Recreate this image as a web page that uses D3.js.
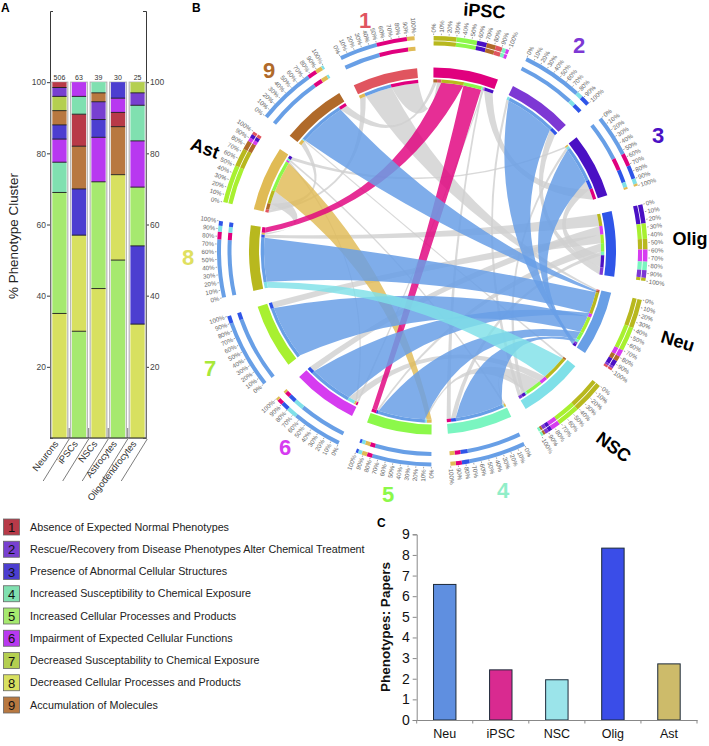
<!DOCTYPE html>
<html>
<head>
<meta charset="utf-8">
<script src="https://d3js.org/d3.v7.min.js"></script>
<style>
  body { margin: 0; background: #fff; }
  text { font-family: 'Liberation Sans', Arial, sans-serif; }
</style>
</head>
<body>
<svg id="fig" width="709" height="746"></svg>
<script>
// panel A: % of each phenotype cluster per cell type, bottom to top
const cellTypes = ['Neurons', 'iPSCs', 'NSCs', 'Astrocytes', 'Oligodendrocytes']
const paperCounts = [506, 63, 39, 30, 25]
const stackNeurons = [['8', 35], ['5', 34], ['4', 8.5], ['6', 6.5], ['3', 4], ['9', 4], ['7', 4], ['2', 2.5], ['1', 1.5]]
const stackIPSC = [['5', 30], ['8', 27], ['3', 13], ['9', 12], ['1', 9], ['4', 5], ['6', 4]]
const stackNSC = [['8', 42], ['5', 30], ['6', 12.5], ['3', 5], ['2', 5], ['9', 2.5], ['4', 3]]
const stackAstro = [['5', 50], ['8', 24], ['9', 13.5], ['1', 4], ['6', 4], ['3', 4.5]]
const stackOligo = [['8', 32], ['3', 22], ['5', 16.5], ['6', 13], ['4', 10], ['2', 3.5], ['7', 3]]
const percentTicks = [20, 40, 60, 80, 100]

// legend
const clusterIds = ['1', '2', '3', '4', '5', '6', '7', '8', '9']
const clusterNames = [
  'Absence of Expected Normal Phenotypes',
  'Rescue/Recovery from Disease Phenotypes Alter Chemical Treatment',
  'Presence of Abnormal Cellular Structures',
  'Increased Susceptibility to Chemical Exposure',
  'Increased Cellular Processes and Products',
  'Impairment of Expected Cellular Functions',
  'Decreased Susceptability to Chemical Exposure',
  'Decreased Cellular Processes and Products',
  'Accumulation of Molecules'
]

// panel C
const ratioLabels = ['Neu', 'iPSC', 'NSC', 'Olig', 'Ast']
const ratioValues = [6.57, 2.43, 1.95, 8.33, 2.72]
const ratioColors = ['#5f8fe0', '#d92a90', '#9be4ea', '#3a4de8', '#cdbb6a']

// panel B: segments clockwise from the top
const segments = ['iPSC', '2', '3', 'Olig', 'Neu', 'NSC', '4', '5', '6', '7', '8', 'Ast', '9', '1']
const pctTicks = [0, 10, 20, 30, 40, 50, 60, 70, 80, 90, 100]

// inner track / ribbon ends, clockwise in each segment
const linksIPSC = [['9', 6], ['1', 7], ['8', 37], ['5', 30], ['4', 3], ['6', 2], ['3', 15]]
const linksOlig = [['8', 20], ['6', 14], ['7', 14], ['5', 14], ['4', 6], ['3', 20], ['2', 12]]
const linksNeu = [['1', 2], ['9', 3], ['8', 36], ['6', 6], ['7', 28], ['5', 13], ['4', 5], ['2', 3], ['3', 4]]
const linksNSC = [['9', 3], ['8', 42], ['6', 12], ['5', 28], ['4', 3], ['3', 6], ['2', 6]]
const linksAst = [['1', 5], ['9', 10], ['8', 22], ['5', 52], ['6', 3], ['4', 3], ['3', 5]]
const links1 = [['Ast', 10], ['Neu', 45], ['iPSC', 45]]
const links2 = [['NSC', 4], ['Neu', 84], ['Olig', 12]]
const links3 = [['Ast', 3], ['NSC', 4], ['Neu', 60], ['Olig', 15], ['iPSC', 18]]
const links4 = [['Ast', 3], ['NSC', 2], ['Neu', 80], ['Olig', 8], ['iPSC', 7]]
const links5 = [['Ast', 8], ['NSC', 3], ['Neu', 78], ['Olig', 3], ['iPSC', 8]]
const links6 = [['iPSC', 3], ['Ast', 3], ['NSC', 12], ['Neu', 72], ['Olig', 10]]
const links7 = [['Neu', 90], ['Olig', 10]]
const links8 = [['NSC', 10], ['Neu', 73], ['Olig', 5], ['Ast', 3], ['iPSC', 9]]
const links9 = [['Ast', 8], ['NSC', 2], ['Neu', 78], ['iPSC', 12]]

// outer percent rings, clockwise in each segment
const ringIPSC = [['8', 30], ['5', 27], ['3', 13], ['9', 12], ['1', 9], ['4', 5], ['6', 4]]
const ringOlig = [['3', 25], ['7', 20], ['8', 14], ['6', 16], ['4', 11], ['2', 10], ['8', 4]]
const ringNeu = [['8', 38], ['7', 32], ['6', 9], ['9', 7], ['3', 8], ['2', 3], ['1', 3]]
const ringNSC = [['8', 42], ['7', 30], ['6', 12], ['3', 5], ['2', 5], ['9', 3], ['4', 3]]
const ringAst = [['7', 50], ['8', 24], ['9', 12], ['6', 5], ['3', 5], ['1', 4]]
const ring1 = [['Neu', 50], ['iPSC', 40], ['Ast', 10]]
const ring2 = [['Neu', 80], ['NSC', 8], ['Olig', 12]]
const ring3 = [['Neu', 55], ['iPSC', 17], ['Olig', 18], ['NSC', 7], ['Ast', 3]]
const ring4 = [['Neu', 75], ['Olig', 10], ['iPSC', 8], ['Ast', 7]]
const ring5 = [['Neu', 78], ['iPSC', 7], ['Ast', 7], ['NSC', 5], ['Olig', 3]]
const ring6 = [['Neu', 66], ['NSC', 14], ['Olig', 10], ['iPSC', 7], ['Ast', 3]]
const ring7 = [['Neu', 90], ['Olig', 10]]
const ring8 = [['Neu', 76], ['iPSC', 10], ['NSC', 8], ['Olig', 6]]
const ring9 = [['Neu', 76], ['iPSC', 12], ['Ast', 9], ['NSC', 3]]

// ribbons drawn in the cell type's colour, all others are grey
const colouredLinks = [['2', 'Neu'], ['3', 'Neu'], ['4', 'Neu'], ['5', 'Neu'], ['6', 'Neu'], ['7', 'Neu'], ['8', 'Neu'], ['9', 'Neu'], ['8', 'NSC'], ['5', 'Ast'], ['5', 'iPSC'], ['8', 'iPSC']]

const linksOf = { iPSC: linksIPSC, Olig: linksOlig, Neu: linksNeu, NSC: linksNSC, Ast: linksAst, 1: links1, 2: links2, 3: links3, 4: links4, 5: links5, 6: links6, 7: links7, 8: links8, 9: links9 }
const ringOf = { iPSC: ringIPSC, Olig: ringOlig, Neu: ringNeu, NSC: ringNSC, Ast: ringAst, 1: ring1, 2: ring2, 3: ring3, 4: ring4, 5: ring5, 6: ring6, 7: ring7, 8: ring8, 9: ring9 }
const stacks = [stackNeurons, stackIPSC, stackNSC, stackAstro, stackOligo]

const segColor = { iPSC: '#e0007e', Olig: '#2f55e8', Neu: '#689fe6', NSC: '#7fe0e8', Ast: '#e0bb55', 1: '#e0555f', 2: '#7d38d4', 3: '#4a10c4', 4: '#7af5c0', 5: '#8cf84a', 6: '#d63cf0', 7: '#a8f030', 8: '#b8b81e', 9: '#b06a2a' }
const barColor = { 1: '#b83a48', 2: '#7840d0', 3: '#4c3ed0', 4: '#80e0b0', 5: '#a6e96f', 6: '#b838f0', 7: '#b4cf50', 8: '#d8e060', 9: '#b87840' }

const svg = d3.select('#fig')

function panelLetter (s, x, y) {
  svg.append('text').attr('x', x).attr('y', y).attr('font-size', 12).attr('font-weight', 'bold').text(s)
}
panelLetter('A', 1, 12)
panelLetter('B', 192, 12)
panelLetter('C', 377, 527)

/* ---------- panel A ---------- */
const yA = d3.scaleLinear().domain([0, 120]).range([438, 11])
const xA = d3.scaleBand().domain(cellTypes).range([50, 147]).paddingInner(0.27).paddingOuter(0.12)
const gA = svg.append('g')

function styleAxisA (g) {
  g.selectAll('path,line').attr('stroke', '#222').attr('stroke-width', 0.9)
  g.selectAll('text').attr('font-size', 8.5).attr('fill', '#444').attr('font-family', "'Liberation Sans', Arial, sans-serif")
}
gA.append('g').attr('transform', 'translate(50,0)')
  .call(d3.axisLeft(yA).tickValues(percentTicks).tickSize(3).tickSizeOuter(-3).tickPadding(1))
  .call(styleAxisA)
gA.append('g').attr('transform', 'translate(146,0)')
  .call(d3.axisRight(yA).tickValues(percentTicks).tickSize(3).tickSizeOuter(-3).tickPadding(1))
  .call(styleAxisA)

cellTypes.forEach(function (name, i) {
  const x = xA(name)
  const col = gA.append('g')
  let bottom = 0
  const parts = stacks[i].map(function (p) {
    const d = { id: p[0], y0: bottom, y1: bottom + p[1] }
    bottom = d.y1
    return d
  })
  col.append('rect').attr('x', x - 1.2).attr('y', yA(100)).attr('width', xA.bandwidth() + 2.4).attr('height', yA(0) - yA(100))
    .attr('fill', 'none').attr('stroke', '#b5b5b5').attr('stroke-width', 1.2)
  col.selectAll('rect.part').data(parts).enter().append('rect').attr('class', 'part')
    .attr('x', x).attr('width', xA.bandwidth())
    .attr('y', d => yA(d.y1)).attr('height', d => yA(d.y0) - yA(d.y1))
    .attr('fill', d => barColor[d.id])
  col.selectAll('line.sep').data(parts.slice(0, -1)).enter().append('line').attr('class', 'sep')
    .attr('x1', x).attr('x2', x + xA.bandwidth())
    .attr('y1', d => yA(d.y1)).attr('y2', d => yA(d.y1))
    .attr('stroke', '#1a1a1a').attr('stroke-width', 0.9)
  gA.append('text').attr('x', x + xA.bandwidth() / 2).attr('y', yA(100) - 2.5)
    .attr('text-anchor', 'middle').attr('font-size', 7).attr('fill', '#333').text(paperCounts[i])

  // slanted labels under the columns
  const right = x + xA.bandwidth() + 2.6
  gA.append('text').attr('transform', 'translate(' + (x + 6.5) + ',444) rotate(-52)')
    .attr('text-anchor', 'end').attr('font-size', 9.4).attr('fill', '#333').text(name)
  gA.append('line').attr('x1', right).attr('x2', right).attr('y1', i === 4 ? 438 : 428).attr('y2', 438).attr('stroke', '#555').attr('stroke-width', 0.8)
  gA.append('line').attr('x1', right).attr('y1', 439).attr('x2', right - 26).attr('y2', 481).attr('stroke', '#444').attr('stroke-width', 0.7)
})
gA.append('line').attr('x1', 50).attr('x2', 146).attr('y1', 438).attr('y2', 438).attr('stroke', '#222')
gA.append('text').attr('transform', 'translate(18,236) rotate(-90)').attr('text-anchor', 'middle')
  .attr('font-size', 13.4).attr('fill', '#222').text('% Phenotype Cluster')

/* ---------- legend ---------- */
const yLegend = d3.scalePoint().domain(clusterIds).range([527, 705])
const legend = svg.append('g').selectAll('g').data(clusterIds).enter().append('g')
  .attr('transform', d => 'translate(0,' + yLegend(d) + ')')
legend.append('rect').attr('x', 3.5).attr('y', -8).attr('width', 16).attr('height', 16)
  .attr('fill', d => barColor[d]).attr('stroke', '#666').attr('stroke-width', 0.8)
legend.append('text').attr('x', 11.5).attr('y', 5).attr('text-anchor', 'middle').attr('font-size', 13).attr('fill', '#111').text(d => d)
legend.append('text').attr('x', 30).attr('y', 3.5).attr('font-size', 10.75).attr('fill', '#222').text((d, i) => clusterNames[i])

/* ---------- panel B ---------- */
const cx = 432.5
const cy = 251
const gB = svg.append('g').attr('transform', 'translate(' + cx + ',' + cy + ')')
const rad = Math.PI / 180
const segStep = 360 / segments.length
const segSpan = 20.6
const arc = d3.arc()

function angleScale (seg) {
  const a0 = 0.3 + segments.indexOf(seg) * segStep
  return d3.scaleLinear().domain([0, 100]).range([a0 * rad, (a0 + segSpan) * rad])
}

// turn [[id, pct], ...] into angular pieces
function pieces (seg, parts) {
  const a = angleScale(seg)
  let sum = 0
  return parts.map(function (p) {
    const d = { id: p[0], startAngle: a(sum), endAngle: a(sum + p[1]) }
    sum += p[1]
    return d
  })
}

const RIBBON_R = 168.5
const isCell = s => ['iPSC', 'Olig', 'Neu', 'NSC', 'Ast'].includes(s)

// d3.ribbon always bends through the centre, the circos ribbons pull in less
// when the two ends are far apart
function polar (a) {
  return [RIBBON_R * Math.sin(a), -RIBBON_R * Math.cos(a)]
}
function curveTo (p, a, b) {
  const P0 = polar(a)
  const P1 = polar(b)
  const mx = P0[0] + P1[0]
  const my = P0[1] + P1[1]
  const len = Math.hypot(mx, my) || 1
  let diff = Math.abs(a - b) % (2 * Math.PI)
  if (diff > Math.PI) diff = 2 * Math.PI - diff
  const ctrl = RIBBON_R * 0.72 * (1 - diff / Math.PI)
  p.quadraticCurveTo(ctrl * mx / len, ctrl * my / len, P1[0], P1[1])
}
function ribbonPath (d) {
  const p = d3.path()
  const s = d.source
  const t = d.target
  const start = polar(s.startAngle)
  p.moveTo(start[0], start[1])
  p.arc(0, 0, RIBBON_R, s.startAngle - Math.PI / 2, s.endAngle - Math.PI / 2)
  curveTo(p, s.endAngle, t.startAngle)
  p.arc(0, 0, RIBBON_R, t.startAngle - Math.PI / 2, t.endAngle - Math.PI / 2)
  curveTo(p, t.endAngle, s.startAngle)
  p.closePath()
  return p.toString()
}

// ribbons, grey first
const ribbons = []
clusterIds.forEach(function (c) {
  pieces(c, linksOf[c]).forEach(function (from) {
    const to = pieces(from.id, linksOf[from.id]).find(p => p.id === c)
    ribbons.push({
      cluster: c,
      cell: from.id,
      source: from,
      target: to,
      coloured: colouredLinks.some(l => l[0] === c && l[1] === from.id)
    })
  })
})
gB.selectAll('path.ribbon').data(ribbons.filter(d => !d.coloured).concat(ribbons.filter(d => d.coloured)))
  .enter().append('path').attr('class', 'ribbon')
  .attr('d', ribbonPath)
  .attr('fill', d => d.coloured ? segColor[d.cell] : '#cfcfcf')
  .attr('fill-opacity', d => d.coloured ? (d.cell === 'Neu' ? 0.85 : 0.82) : 0.8)

segments.forEach(function (seg) {
  const a = angleScale(seg)
  const g = gB.append('g')

  // thick band
  g.append('path').attr('fill', segColor[seg]).attr('d', arc({ innerRadius: 173.5, outerRadius: 183.5, startAngle: a(0), endAngle: a(100) }))

  // thin inner track
  g.selectAll('path.inner').data(pieces(seg, linksOf[seg])).enter().append('path').attr('class', 'inner')
    .attr('fill', d => segColor[d.id])
    .attr('d', d => arc({ innerRadius: 168.5, outerRadius: 171.8, startAngle: d.startAngle, endAngle: d.endAngle }))

  // two percent rings
  const rings = isCell(seg) ? [[205.5, 209.7], [210.5, 215]] : [[201, 205], [211.5, 215.5]]
  rings.forEach(function (r) {
    g.selectAll(null).data(pieces(seg, ringOf[seg])).enter().append('path')
      .attr('fill', d => segColor[d.id])
      .attr('d', d => arc({ innerRadius: r[0], outerRadius: r[1], startAngle: d.startAngle, endAngle: d.endAngle }))
  })

  // percent ticks and labels
  const tick = g.selectAll('g.tick').data(pctTicks).enter().append('g').attr('class', 'tick')
    .attr('transform', d => 'rotate(' + (a(d) / rad - 90) + ') translate(216,0)')
  tick.append('line').attr('x1', 0).attr('x2', 1.5).attr('stroke', '#555').attr('stroke-width', 0.5)
  tick.append('text').attr('font-size', 6.2).attr('fill', '#666').attr('dy', '0.35em')
    .attr('x', d => a(d) > Math.PI ? -2.5 : 2.5)
    .attr('transform', d => a(d) > Math.PI ? 'rotate(180)' : null)
    .attr('text-anchor', d => a(d) > Math.PI ? 'end' : 'start')
    .text(d => d + '%')
})

// segment names round the circle, page coordinates
const segLabels = ['iPSC', 'Olig', 'Neu', 'NSC', 'Ast']
const numberLabelPos = { 1: [365, 28], 2: [579, 53], 3: [658, 143], 4: [503, 498], 5: [388, 502], 6: [285, 455], 7: [210, 376], 8: [188, 265], 9: [269, 78] }
const nameLabelPos = { iPSC: [484, 17, 4], Olig: [690, 245, 0], Neu: [676, 347, 17], NSC: [610, 452, 36], Ast: [203, 154, 20] }
const numberColor = Object.assign({}, segColor, { 8: '#dfe060', 4: '#90eec8', 7: '#a8e83a' })

clusterIds.forEach(function (c) {
  svg.append('text').attr('x', numberLabelPos[c][0]).attr('y', numberLabelPos[c][1]).attr('text-anchor', 'middle')
    .attr('font-size', 22).attr('font-weight', 'bold').attr('fill', numberColor[c]).text(c)
})
segLabels.forEach(function (s) {
  const p = nameLabelPos[s]
  svg.append('text').attr('transform', 'translate(' + p[0] + ',' + p[1] + ') rotate(' + p[2] + ')').attr('text-anchor', 'middle')
    .attr('font-size', 18).attr('font-weight', 'bold').attr('fill', '#000').text(s)
})

/* ---------- panel C ---------- */
const yC = d3.scaleLinear().domain([0, 9]).range([720, 534.3])
const xC = d3.scaleBand().domain(ratioLabels).range([416.7, 697]).paddingInner(0.6).paddingOuter(0.3)
const gC = svg.append('g')

gC.selectAll('rect').data(ratioValues).enter().append('rect')
  .attr('x', (d, i) => xC(ratioLabels[i])).attr('width', xC.bandwidth())
  .attr('y', d => yC(d)).attr('height', d => yC(0) - yC(d))
  .attr('fill', (d, i) => ratioColors[i]).attr('stroke', '#1c2a3a').attr('stroke-width', 1)

gC.append('g').attr('transform', 'translate(416.7,0)')
  .call(d3.axisLeft(yC).ticks(9).tickSize(4).tickSizeOuter(4).tickPadding(3))
  .call(function (g) {
    g.selectAll('path,line').attr('stroke', '#888')
    g.selectAll('text').attr('font-size', 14).attr('fill', '#111').attr('font-family', "'Liberation Sans', Arial, sans-serif")
  })
gC.append('g').attr('transform', 'translate(0,720)')
  .call(d3.axisBottom(xC).tickSize(0).tickPadding(9))
  .call(function (g) {
    g.select('path').attr('stroke', '#888')
    g.selectAll('text').attr('font-size', 12.5).attr('fill', '#111').attr('font-family', "'Liberation Sans', Arial, sans-serif")
  })
gC.selectAll('line.bound').data(d3.range(ratioLabels.length + 1)).enter().append('line').attr('class', 'bound')
  .attr('x1', d => 416.7 + d * xC.step()).attr('x2', d => 416.7 + d * xC.step())
  .attr('y1', 720).attr('y2', 723.5).attr('stroke', '#888')
svg.append('text').attr('transform', 'translate(390,627) rotate(-90)').attr('text-anchor', 'middle')
  .attr('font-size', 13.5).attr('font-weight', 'bold').attr('fill', '#111').text('Phenotypes: Papers')
</script>
</body>
</html>
